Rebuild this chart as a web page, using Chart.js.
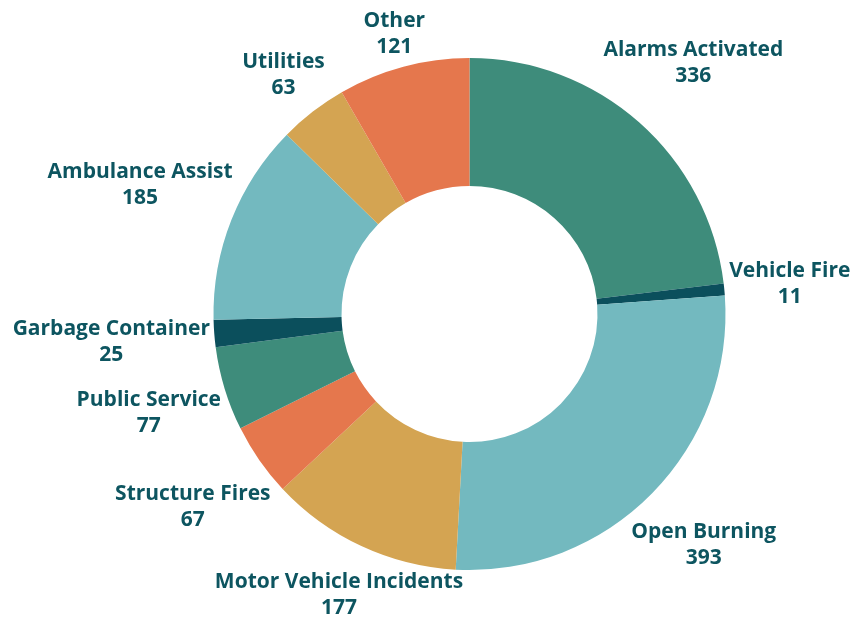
<!DOCTYPE html>
<html>
<head>
<meta charset="utf-8">
<script src="https://cdn.jsdelivr.net/npm/chart.js@4.4.1/dist/chart.umd.min.js"></script>
<style>
    html, body { margin: 0; padding: 0; background: #ffffff; }
    #wrap { width: 866px; height: 619px; position: relative; }
</style>
</head>
<body>
<div id="wrap"><canvas id="callsChart"></canvas></div>
<script>
// Call types and counts, clockwise from the top
const categories = ['Alarms Activated', 'Vehicle Fire', 'Open Burning', 'Motor Vehicle Incidents',
    'Structure Fires', 'Public Service', 'Garbage Container', 'Ambulance Assist', 'Utilities', 'Other'];
const counts = [336, 11, 393, 177, 67, 77, 25, 185, 63, 121];
const sliceColors = ['#3e8c7b', '#0b4f5c', '#73b9bf', '#d4a452', '#e5774d',
    '#3e8c7b', '#0b4f5c', '#73b9bf', '#d4a452', '#e5774d'];

const labelColor = '#0d5560';
const labelFont = 'bold 21px "Open Sans"';
const lineGap = 26;

// Draws "name / value" outside each slice
const outsideLabels = {
    id: 'outsideLabels',
    afterDatasetsDraw: function(chart) {
        const ctx = chart.ctx;
        const meta = chart.getDatasetMeta(0);
        const data = chart.data.datasets[0].data;
        ctx.save();
        ctx.font = labelFont;
        ctx.fillStyle = labelColor;
        ctx.textAlign = 'center';
        ctx.textBaseline = 'middle';
        meta.data.forEach(function(arc, i) {
            const mid = (arc.startAngle + arc.endAngle) / 2;
            const name = chart.data.labels[i];
            const value = String(data[i]);
            const w = Math.max(ctx.measureText(name).width, ctx.measureText(value).width);
            const h = 50;
            const cos = Math.cos(mid), sin = Math.sin(mid);
            let d = arc.outerRadius + 3 + (w / 2) * Math.abs(cos) + (h / 2) * Math.abs(sin);
            // pull the block in along its ray if it would leave the canvas
            if (sin > 0 && arc.y + d * sin > chart.height - h / 2) {
                d = (chart.height - h / 2 - arc.y) / sin;
            }
            if (sin < 0 && arc.y + d * sin < h / 2) {
                d = (h / 2 - arc.y) / sin;
            }
            const x = arc.x + d * cos;
            const y = arc.y + d * sin + 1;
            ctx.fillText(name, x, y - lineGap / 2);
            ctx.fillText(value, x, y + lineGap / 2);
        });
        ctx.restore();
    }
};

document.addEventListener('DOMContentLoaded', function() {
    const el = document.getElementById('callsChart');
    new Chart(el, {
        type: 'doughnut',
        data: {
            labels: categories,
            datasets: [{
                data: counts,
                backgroundColor: sliceColors,
                borderWidth: 0
            }]
        },
        options: {
            responsive: true,
            maintainAspectRatio: false,
            animation: false,
            cutout: '50%',
            layout: {
                padding: { left: 213, right: 140, top: 58, bottom: 49 }
            },
            plugins: {
                legend: { display: false },
                tooltip: { enabled: false }
            }
        },
        plugins: [outsideLabels]
    });
});
</script>
</body>
</html>
